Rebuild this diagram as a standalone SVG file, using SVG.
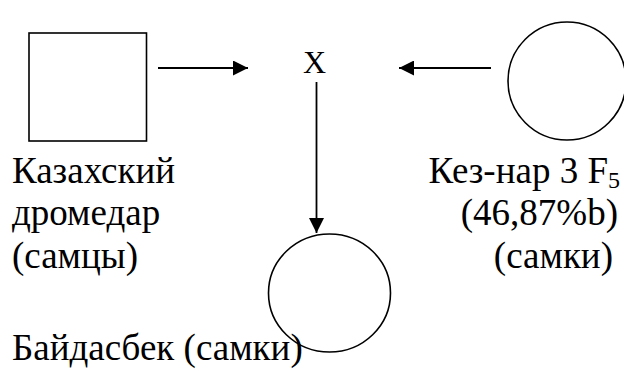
<svg xmlns="http://www.w3.org/2000/svg" width="624" height="371" viewBox="0 0 624 371">
  <style>
    .shape { fill: none; stroke: #000; stroke-width: 1.6; }
    .edge { fill: none; stroke: #000; stroke-width: 1.8; }
  </style>
  <defs>
    <marker id="arrow" viewBox="0 0 10 10" refX="10" refY="5" markerUnits="userSpaceOnUse" markerWidth="15" markerHeight="15" orient="auto">
      <path d="M0,0 L10,5 L0,10 Z" fill="#000"/>
    </marker>
  </defs>
  <rect width="624" height="371" fill="#fff"/>

  <g font-family="Liberation Serif, Times New Roman, serif" font-size="37" fill="#000">
    <!-- male parent: square -->
    <g id="male-parent">
      <rect class="shape" x="29" y="33" width="117.5" height="108"/>
      <text x="12" y="183">Казахский</text>
      <text x="12" y="225">дромедар</text>
      <text x="12" y="268">(самцы)</text>
    </g>

    <!-- cross sign -->
    <g id="cross">
      <text x="314.5" y="73" text-anchor="middle" font-size="32">X</text>
    </g>

    <!-- female parent: circle -->
    <g id="female-parent">
      <circle class="shape" cx="567" cy="81" r="59"/>
      <text x="620" y="183" text-anchor="end">Кез-нар 3 F<tspan font-size="24" dy="5">5</tspan></text>
      <text x="618" y="225" text-anchor="end">(46,87%b)</text>
      <text x="613" y="268" text-anchor="end">(самки)</text>
    </g>

    <!-- offspring: circle -->
    <g id="offspring">
      <ellipse class="shape" cx="329.5" cy="293" rx="61" ry="59"/>
      <text x="12" y="360">Байдасбек (самки)</text>
    </g>
  </g>

  <g id="connectors">
    <line class="edge" x1="158" y1="68" x2="248" y2="68" marker-end="url(#arrow)"/>
    <line class="edge" x1="491" y1="68" x2="399" y2="68" marker-end="url(#arrow)"/>
    <line class="edge" x1="316.5" y1="82" x2="316.5" y2="233" marker-end="url(#arrow)"/>
  </g>
</svg>
